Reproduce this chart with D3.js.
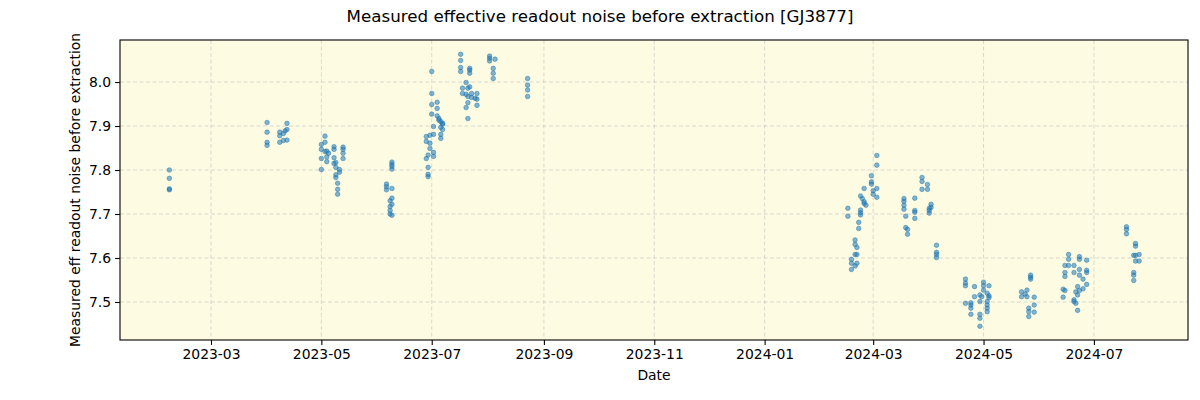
<!DOCTYPE html>
<html><head><meta charset="utf-8">
<script src="https://cdn.jsdelivr.net/npm/d3@7/dist/d3.min.js"></script>
<style>body{margin:0;background:#fff;} svg{display:block;font-family:"DejaVu Sans",sans-serif;}</style>
</head><body>
<svg id="c" width="1200" height="400"></svg>
<script>
const title = "Measured effective readout noise before extraction [GJ3877]";
const xLabel = "Date";
const yLabel = "Measured eff readout noise before extraction";
const yTicks = [7.5, 7.6, 7.7, 7.8, 7.9, 8.0];
const xTicks = ["2023-03","2023-05","2023-07","2023-09","2023-11","2024-01","2024-03","2024-05","2024-07"];
const xDomain = ["2023-01-09 17", "2024-08-22 00"];
const yDomain = [7.4136, 8.0955];

// observations grouped by date: [date, values]
const obs = [
["2023-02-06",[7.800,7.781,7.757,7.755]],
["2023-04-01",[7.908,7.886,7.863,7.856]],
["2023-04-08",[7.886,7.878,7.863]],
["2023-04-10",[7.867,7.883]],
["2023-04-11",[7.889]],
["2023-04-12",[7.892,7.906,7.868]],
["2023-05-01",[7.858,7.847,7.826,7.801]],
["2023-05-03",[7.877,7.863,7.842]],
["2023-05-04",[7.843,7.830,7.819]],
["2023-05-05",[7.838]],
["2023-05-08",[7.853,7.847,7.828,7.815]],
["2023-05-09",[7.817,7.789,7.783,7.806]],
["2023-05-10",[7.770,7.756,7.745]],
["2023-05-11",[7.801,7.795]],
["2023-05-13",[7.852,7.847,7.838,7.826]],
["2023-06-06",[7.768,7.762,7.755]],
["2023-06-08",[7.730,7.717,7.708,7.700]],
["2023-06-09",[7.758,7.818,7.813,7.808,7.802,7.736,7.722,7.697]],
["2023-06-28",[7.876,7.865,7.826]],
["2023-06-29",[7.834,7.806,7.790,7.785]],
["2023-06-30",[7.879,7.861,7.849]],
["2023-07-01",[8.024,7.974,7.949,7.927]],
["2023-07-02",[7.899,7.881,7.840,7.831]],
["2023-07-04",[7.954,7.940,7.923]],
["2023-07-05",[7.917,7.913]],
["2023-07-06",[7.910,7.897,7.881,7.872]],
["2023-07-07",[7.906,7.904,7.892]],
["2023-07-17",[8.063,8.049,8.033,8.024]],
["2023-07-18",[7.986,7.974]],
["2023-07-20",[7.999,7.942,7.972]],
["2023-07-21",[7.986,7.967,7.953,7.917]],
["2023-07-22",[8.031,8.027,8.020,7.989]],
["2023-07-23",[7.974,7.965]],
["2023-07-25",[7.963]],
["2023-07-26",[7.974,7.961,7.947]],
["2023-08-02",[8.059,8.054,8.048]],
["2023-08-04",[8.031,8.020,8.008]],
["2023-08-05",[8.052]],
["2023-08-23",[8.008,7.993,7.982,7.967]],
["2024-02-16",[7.713,7.695]],
["2024-02-18",[7.597,7.588,7.574]],
["2024-02-20",[7.641,7.631,7.608,7.582]],
["2024-02-21",[7.624,7.608,7.588]],
["2024-02-22",[7.681,7.667]],
["2024-02-23",[7.709,7.703,7.698,7.741]],
["2024-02-24",[7.735]],
["2024-02-25",[7.758,7.728,7.724]],
["2024-02-26",[7.720]],
["2024-02-29",[7.787,7.773,7.768]],
["2024-03-01",[7.753,7.745]],
["2024-03-03",[7.833,7.811,7.758,7.738]],
["2024-03-18",[7.735,7.729,7.720,7.711]],
["2024-03-19",[7.695,7.669]],
["2024-03-20",[7.665,7.654]],
["2024-03-24",[7.736,7.708,7.704,7.690]],
["2024-03-28",[7.783,7.774,7.756]],
["2024-03-31",[7.767,7.756]],
["2024-04-01",[7.713,7.702,7.708]],
["2024-04-02",[7.722,7.715]],
["2024-04-05",[7.629,7.613,7.608,7.601]],
["2024-04-21",[7.552,7.543,7.537,7.497]],
["2024-04-24",[7.498,7.493,7.486,7.472]],
["2024-04-26",[7.535,7.512]],
["2024-04-29",[7.516,7.501,7.472,7.463,7.445]],
["2024-04-30",[7.512]],
["2024-05-01",[7.545,7.537,7.527]],
["2024-05-03",[7.520,7.501,7.493,7.486,7.478]],
["2024-05-04",[7.537,7.514,7.510]],
["2024-05-22",[7.523,7.512]],
["2024-05-24",[7.518]],
["2024-05-25",[7.527,7.512]],
["2024-05-26",[7.486,7.478,7.467]],
["2024-05-27",[7.561,7.556,7.552]],
["2024-05-29",[7.511,7.493,7.477]],
["2024-06-14",[7.529,7.511]],
["2024-06-15",[7.526,7.567,7.558,7.583]],
["2024-06-17",[7.608,7.597,7.583]],
["2024-06-20",[7.583,7.567,7.505,7.501]],
["2024-06-21",[7.497,7.523]],
["2024-06-22",[7.516,7.535,7.481]],
["2024-06-23",[7.603,7.597,7.574,7.561,7.526]],
["2024-06-25",[7.552,7.530]],
["2024-06-27",[7.595,7.572,7.567,7.540]],
["2024-07-19",[7.671,7.665,7.655]],
["2024-07-23",[7.606,7.567,7.561,7.549]],
["2024-07-24",[7.633,7.627,7.606,7.593]],
["2024-07-26",[7.608,7.593]]
];

const parseDay = d3.utcParse("%Y-%m-%d");
const parseHour = d3.utcParse("%Y-%m-%d %H");
const parseMonth = d3.utcParse("%Y-%m");
const points = [];
obs.forEach(([d, vals]) => vals.forEach(v => points.push({date: parseDay(d), v})));

const W = 1200, H = 400;
const m = {l: 120, r: 12, t: 40, b: 60};
const svg = d3.select("#c");
const x = d3.scaleUtc().domain(xDomain.map(parseHour)).range([m.l, W - m.r]);
const y = d3.scaleLinear().domain(yDomain).range([H - m.b, m.t]);

svg.append("rect").attr("x", m.l).attr("y", m.t).attr("width", W - m.l - m.r).attr("height", H - m.t - m.b)
  .attr("fill", "#fdfce2");

const xt = xTicks.map(parseMonth);
const grid = svg.append("g").attr("stroke", "#b0b0c0").attr("stroke-opacity", 0.6).attr("stroke-width", 0.8).attr("stroke-dasharray", "4,2.5");
grid.selectAll(".gx").data(xt).join("line").attr("x1", d => x(d)).attr("x2", d => x(d)).attr("y1", m.t).attr("y2", H - m.b);
grid.selectAll(".gy").data(yTicks).join("line").attr("y1", d => y(d)).attr("y2", d => y(d)).attr("x1", m.l).attr("x2", W - m.r);

svg.append("g").selectAll("circle").data(points).join("circle")
  .attr("cx", d => x(d.date)).attr("cy", d => y(d.v)).attr("r", 2.3)
  .attr("fill", "#1f77b4").attr("fill-opacity", 0.55)
  .attr("stroke", "#1f77b4").attr("stroke-opacity", 0.6).attr("stroke-width", 0.8);

const gx = svg.append("g").attr("transform", `translate(0,${H - m.b})`)
  .call(d3.axisBottom(x).tickValues(xt).tickFormat(d3.utcFormat("%Y-%m")).tickSize(4.9).tickPadding(4));
const gy = svg.append("g").attr("transform", `translate(${m.l},0)`)
  .call(d3.axisLeft(y).tickValues(yTicks).tickFormat(d3.format(".1f")).tickSize(4.9).tickPadding(4));
[gx, gy].forEach(g => {
  g.select(".domain").remove();
  g.selectAll("text").attr("font-size", "13.9px").attr("fill", "#000").attr("font-family", "DejaVu Sans");
  g.selectAll("line").attr("stroke", "#000").attr("stroke-width", 1.1);
});

svg.append("rect").attr("x", m.l).attr("y", m.t).attr("width", W - m.l - m.r).attr("height", H - m.b - m.t)
  .attr("fill", "none").attr("stroke", "#000").attr("stroke-width", 1.1);

svg.append("text").attr("x", 600).attr("y", 22).attr("text-anchor", "middle").attr("font-size", "16.7px").text(title);
svg.append("text").attr("x", (m.l + W - m.r) / 2).attr("y", 380).attr("text-anchor", "middle").attr("font-size", "13.9px").text(xLabel);
svg.append("text").attr("transform", `translate(80,${(m.t + H - m.b) / 2}) rotate(-90)`).attr("text-anchor", "middle").attr("font-size", "13.9px").text(yLabel);
</script>
</body></html>
